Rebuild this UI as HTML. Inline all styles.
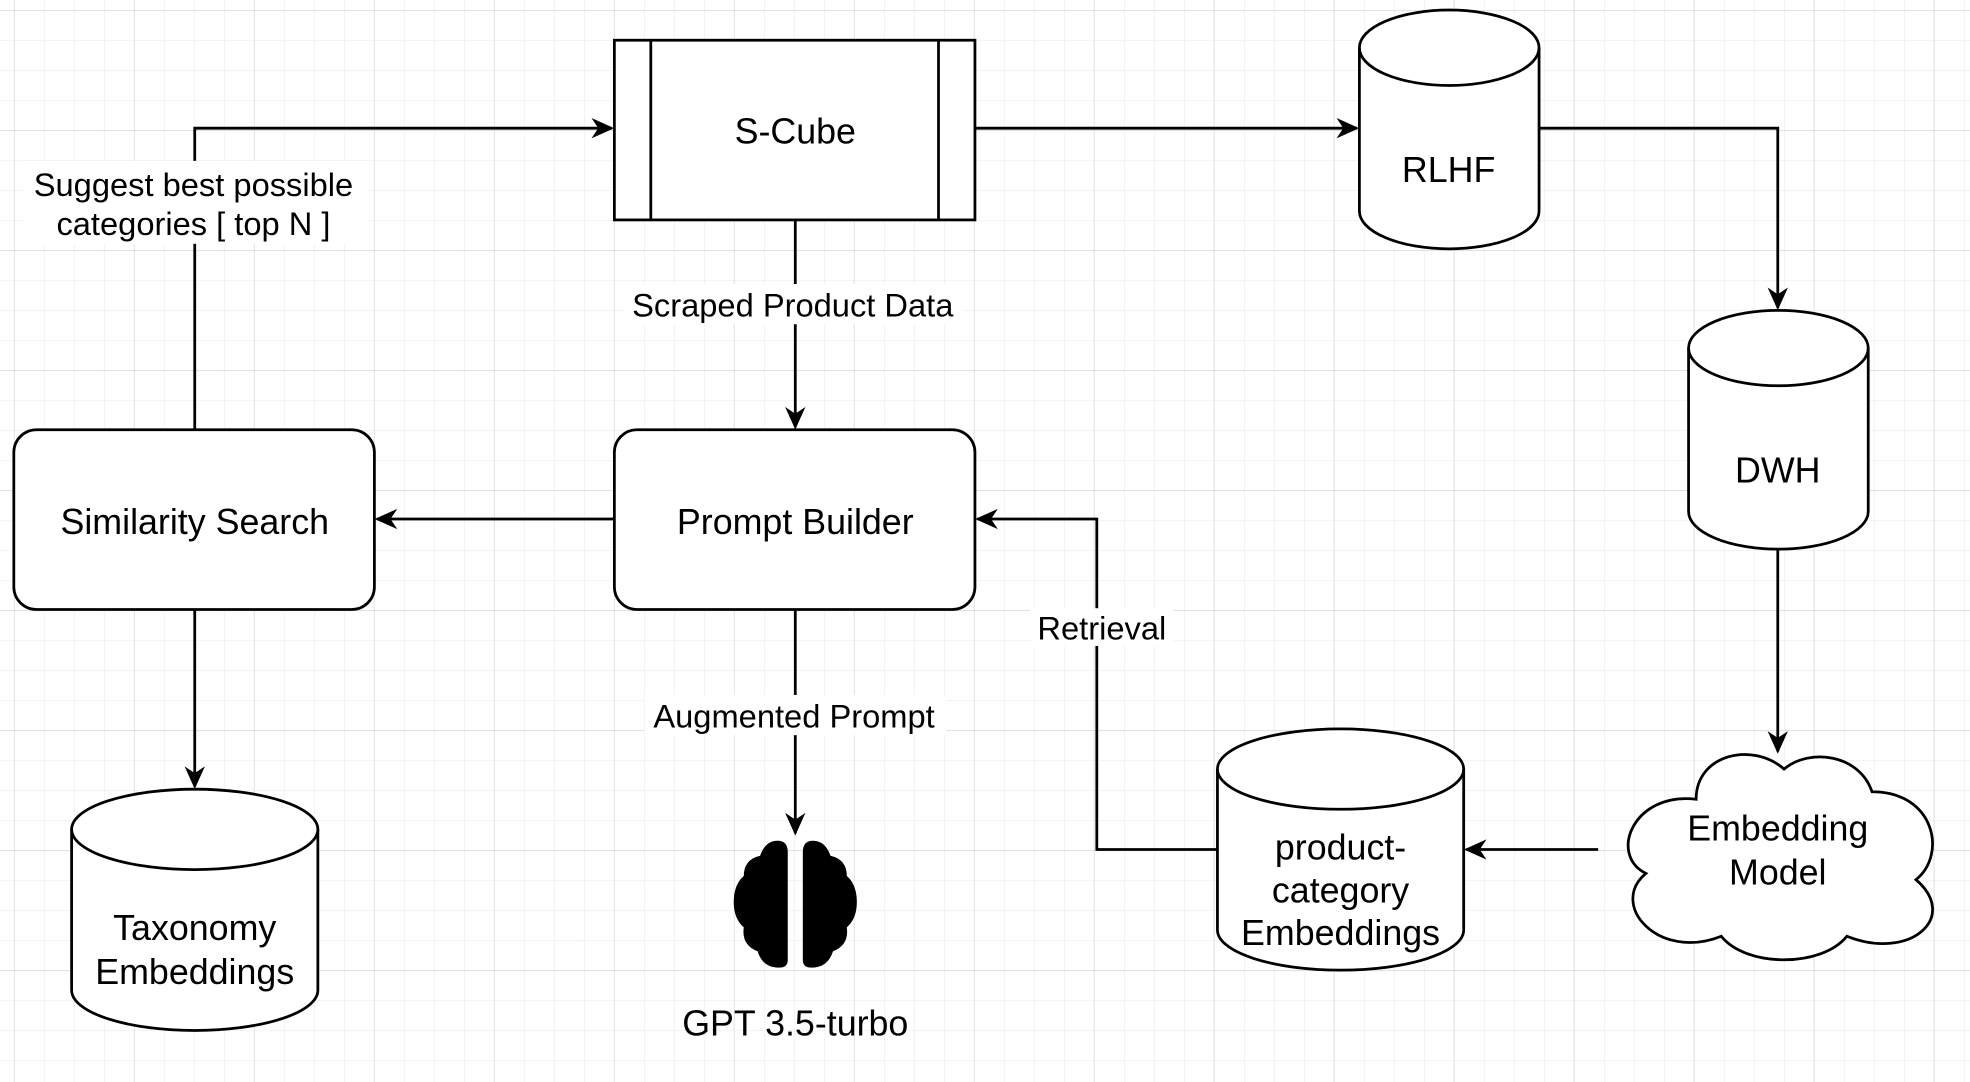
<!DOCTYPE html>
<html><head><meta charset="utf-8"><style>
html,body{margin:0;padding:0;background:#fff;}
svg{display:block;}
text{font-family:"Liberation Sans",Arial,sans-serif;fill:#000;}
</style></head><body>
<svg width="1970" height="1082" viewBox="0 0 1568 861" preserveAspectRatio="none" xmlns="http://www.w3.org/2000/svg">
<defs>
<pattern id="g" x="11.1" y="8" width="23.88" height="23.88" patternUnits="userSpaceOnUse">
<path d="M0 0H23.88M0 0V23.88" stroke="#ececec" stroke-width="1" fill="none"/>
</pattern>
<pattern id="G" x="11.1" y="8" width="95.5" height="95.5" patternUnits="userSpaceOnUse">
<path d="M0 0H95.5M0 0V95.5" stroke="#d6d6d6" stroke-width="1" fill="none"/>
</pattern>
<marker id="a" viewBox="0 0 20 20" refX="18" refY="10" markerWidth="18" markerHeight="18" markerUnits="userSpaceOnUse" orient="auto">
<path d="M0 1 L20 10 L0 19 L6 10 Z" fill="#000"/>
</marker>
</defs>
<rect width="1568" height="861" fill="#fff"/>
<rect width="1568" height="861" fill="url(#g)"/>
<rect width="1568" height="861" fill="url(#G)"/>

<g stroke="#000" stroke-width="2.2" fill="none">
<path d="M776 102H1080" marker-end="url(#a)"/>
<path d="M1225 102H1415V245" marker-end="url(#a)"/>
<path d="M1415 437V598" marker-end="url(#a)"/>
<path d="M1272 676H1167" marker-end="url(#a)"/>
<path d="M969 676H873V413H778" marker-end="url(#a)"/>
<path d="M633 175V340" marker-end="url(#a)"/>
<path d="M489 413H300" marker-end="url(#a)"/>
<path d="M155 342V102H487" marker-end="url(#a)"/>
<path d="M155 485V626" marker-end="url(#a)"/>
<path d="M633 485V663" marker-end="url(#a)"/>
</g>

<g fill="#fff">
<rect x="18" y="128" width="274" height="66"/>
<rect x="498" y="226" width="268" height="32"/>
<rect x="513" y="553" width="240" height="32"/>
<rect x="820" y="484" width="114" height="30"/>
</g>

<g stroke="#000" stroke-width="2.2" fill="#fff">
<rect x="489" y="32" width="287" height="143"/>
<path d="M518 32V175M747 32V175"/>
<rect x="489" y="342" width="287" height="143" rx="18"/>
<rect x="11" y="342" width="287" height="143" rx="18"/>
<path d="M1082 38 A71.5 30 0 0 1 1225 38 V168 A71.5 30 0 0 1 1082 168 Z"/>
<path d="M1082 38 A71.5 30 0 0 0 1225 38" fill="none"/>
<path d="M1344 277 A71.5 30 0 0 1 1487 277 V407 A71.5 30 0 0 1 1344 407 Z"/>
<path d="M1344 277 A71.5 30 0 0 0 1487 277" fill="none"/>
<path d="M969 612 A98 32 0 0 1 1165 612 V740 A98 32 0 0 1 969 740 Z"/>
<path d="M969 612 A98 32 0 0 0 1165 612" fill="none"/>
<path d="M57 660 A98 32 0 0 1 253 660 V788 A98 32 0 0 1 57 788 Z"/>
<path d="M57 660 A98 32 0 0 0 253 660" fill="none"/>
<path d="M1350 636 C1300 630 1280 680 1310 695 C1280 720 1320 765 1370 745 C1390 770 1450 770 1470 745 C1520 765 1560 730 1525 700 C1550 680 1540 630 1490 630 C1480 600 1440 595 1420 612 C1395 590 1350 600 1350 636 Z"/>
</g>

<g fill="#000">
<path d="M627 678 Q627 669 619 669 Q609 669 605 681 Q592 684 592 697 Q584 704 584 718 Q584 731 592 738 Q590 752 603 757 Q607 770 620 770 Q627 770 627 764 Z"/>
<path d="M639 678 Q639 669 647 669 Q657 669 661 681 Q674 684 674 697 Q682 704 682 718 Q682 731 674 738 Q676 752 663 757 Q659 770 646 770 Q639 770 639 764 Z"/>
</g>

<g font-size="28.5" text-anchor="middle">
<text x="633" y="114">S-Cube</text>
<text x="633" y="425">Prompt Builder</text>
<text x="155" y="425">Similarity Search</text>
<text x="1153" y="145">RLHF</text>
<text x="1415" y="384">DWH</text>
<text x="1415" y="669">Embedding</text>
<text x="1415" y="704">Model</text>
<text x="1067" y="684">product-</text>
<text x="1067" y="718">category</text>
<text x="1067" y="752">Embeddings</text>
<text x="155" y="748">Taxonomy</text>
<text x="155" y="783">Embeddings</text>
<text x="633" y="824">GPT 3.5-turbo</text>
</g>
<g font-size="26" text-anchor="middle">
<text x="154" y="156">Suggest best possible</text>
<text x="154" y="187">categories [ top N ]</text>
<text x="631" y="252">Scraped Product Data</text>
<text x="632" y="579">Augmented Prompt</text>
<text x="877" y="509">Retrieval</text>
</g>
</svg>
</body></html>
